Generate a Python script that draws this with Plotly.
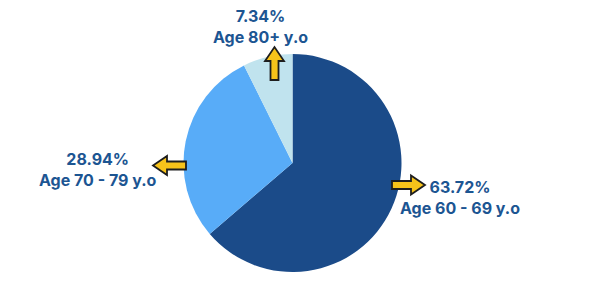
import plotly.graph_objects as go

labels = ["Age 60 - 69 y.o", "Age 70 - 79 y.o", "Age 80+ y.o"]
values = [63.72, 28.94, 7.34]
colors = ["#1b4b89", "#58acf8", "#c0e3ee"]

W, H = 600, 300
cx, cy, r = 292.5, 163.0, 109.0

fig = go.Figure(go.Pie(
    labels=labels, values=values, sort=False, direction="clockwise", rotation=0,
    marker=dict(colors=colors, line=dict(width=0)),
    textinfo="none", hoverinfo="skip", showlegend=False,
    domain=dict(x=[(cx - r) / W, (cx + r) / W], y=[(H - cy - r) / H, (H - cy + r) / H]),
))

def px(x, y):
    return x / W, 1 - y / H

def arrow_path(x0, y0, direction, length=33, shaft=8, head=19, headlen=14):
    pts = [(0, -shaft / 2), (length - headlen, -shaft / 2), (length - headlen, -head / 2),
           (length, 0), (length - headlen, head / 2), (length - headlen, shaft / 2), (0, shaft / 2)]
    out = []
    for u, v in pts:
        if direction == "right":
            X, Y = x0 + u, y0 + v
        elif direction == "left":
            X, Y = x0 - u, y0 + v
        else:
            X, Y = x0 + v, y0 - u
        out.append(px(X, Y))
    return "M " + " L ".join(f"{a:.5f},{b:.5f}" for a, b in out) + " Z"

arrows = [(392, 185, "right"), (186, 165.5, "left"), (274.5, 80, "up")]
for x0, y0, d in arrows:
    fig.add_shape(type="path", xref="paper", yref="paper", path=arrow_path(x0, y0, d),
                  fillcolor="#f7c31a", line=dict(color="#1e1e1e", width=1.8))

text_pos = [(460, 197), (98, 169.5), (260, 26)]
for (x, y), lab, val in zip(text_pos, labels, values):
    fx, fy = px(x, y)
    fig.add_annotation(x=fx, y=fy, xref="paper", yref="paper", showarrow=False,
                       xanchor="center", yanchor="middle",
                       text=f"{val:.2f}%<br>{lab}", align="center",
                       font=dict(family="Inter", size=16, color="#1c5592", weight="bold"))

fig.update_layout(width=W, height=H, margin=dict(l=0, r=0, t=0, b=0),
                  paper_bgcolor="white", plot_bgcolor="white")
fig.write_html("out.html")
